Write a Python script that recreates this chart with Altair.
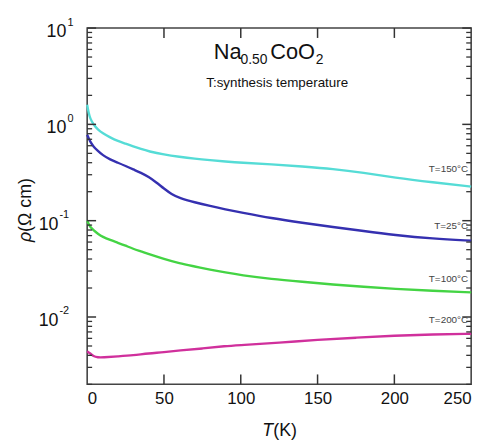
import altair as alt
import pandas as pd

# ---- data ----
series_names = ["T=150°C", "T=25°C", "T=100°C", "T=200°C"]
series_colors = ["#55dcd6", "#3530b0", "#44d444", "#d0309c"]

t_150 = [0, 1, 2, 4, 7, 10, 15, 20, 25, 30, 35, 40, 50, 60, 70, 80, 90, 100, 120, 140, 160, 180, 200, 225, 250]
r_150 = [1.6, 1.3, 1.15, 1.0, 0.88, 0.81, 0.73, 0.67, 0.63, 0.59, 0.555, 0.525, 0.485, 0.46, 0.44, 0.425, 0.412, 0.40, 0.385, 0.365, 0.345, 0.315, 0.28, 0.25, 0.226]

t_25 = [0, 1, 2, 4, 7, 10, 15, 20, 25, 30, 35, 40, 45, 50, 55, 60, 70, 80, 90, 100, 120, 140, 160, 180, 200, 225, 250]
r_25 = [0.78, 0.72, 0.66, 0.59, 0.53, 0.48, 0.43, 0.40, 0.37, 0.34, 0.315, 0.285, 0.25, 0.215, 0.188, 0.172, 0.155, 0.142, 0.131, 0.122, 0.106, 0.095, 0.086, 0.078, 0.071, 0.065, 0.062]

t_100 = [0, 1, 2, 4, 7, 10, 15, 20, 25, 30, 35, 40, 50, 60, 70, 80, 90, 100, 120, 140, 160, 180, 200, 225, 250]
r_100 = [0.1, 0.092, 0.086, 0.08, 0.073, 0.068, 0.063, 0.059, 0.055, 0.051, 0.048, 0.045, 0.040, 0.036, 0.0335, 0.031, 0.029, 0.0272, 0.0248, 0.0232, 0.0217, 0.0206, 0.0196, 0.0187, 0.018]

t_200 = [0, 2, 4, 7, 10, 20, 30, 40, 50, 60, 75, 90, 100, 125, 150, 175, 200, 225, 250]
r_200 = [0.0044, 0.0042, 0.0039, 0.0038, 0.0038, 0.0039, 0.004, 0.0042, 0.0043, 0.0045, 0.0047, 0.005, 0.0051, 0.0054, 0.0058, 0.0061, 0.0064, 0.0066, 0.0067]

x_ticks = [50, 100, 150, 200]
x_labels = [0, 50, 100, 150, 200, 250]
y_major = [10, 1, 0.1, 0.01]
y_exps = ["1", "0", "-1", "-2"]
y_minor = [m * 10.0 ** k for k in range(-3, 1) for m in range(2, 10) if 0.002 <= m * 10.0 ** k <= 10]

rows = []
for name, ts, rs in zip(series_names, [t_150, t_25, t_100, t_200], [r_150, r_25, r_100, r_200]):
    for t, r in zip(ts, rs):
        rows.append({"series": name, "T": t, "rho": r})
df = pd.DataFrame(rows)

W, H = 388, 360
xs = alt.Scale(domain=[0, 250], nice=False, zero=False)
ys = alt.Scale(type="log", domain=[0.002, 10], nice=False)
FONT = "Liberation Sans"
TICK = "#333333"

lines = alt.Chart(df).mark_line(strokeWidth=2.4, interpolate="basis").encode(
    x=alt.X("T:Q", scale=xs,
            axis=alt.Axis(values=x_labels, ticks=False, domain=False, grid=False, title=None,
                          labelFontSize=17, labelFont=FONT, labelColor="#111", labelPadding=6)),
    y=alt.Y("rho:Q", scale=ys, axis=None),
    color=alt.Color("series:N", scale=alt.Scale(domain=series_names, range=series_colors), legend=None),
    detail="series:N",
)

xt = pd.DataFrame({"v": x_ticks})
x_bot = alt.Chart(xt).mark_rule(color=TICK, strokeWidth=1.5).encode(
    x=alt.X("v:Q", scale=xs), y=alt.value(H), y2=alt.value(H - 10))
x_top = alt.Chart(xt).mark_rule(color=TICK, strokeWidth=1.5).encode(
    x=alt.X("v:Q", scale=xs), y=alt.value(0), y2=alt.value(10))

ym = pd.DataFrame({"v": y_major, "e": y_exps, "neg": [0, 0, 1, 1]})
yn = pd.DataFrame({"v": y_minor})
y_maj_l = alt.Chart(ym).mark_rule(color=TICK, strokeWidth=1.5).encode(
    y=alt.Y("v:Q", scale=ys), x=alt.value(0), x2=alt.value(9))
y_maj_r = alt.Chart(ym).mark_rule(color=TICK, strokeWidth=1.5).encode(
    y=alt.Y("v:Q", scale=ys), x=alt.value(W), x2=alt.value(W - 9))
y_min_l = alt.Chart(yn).mark_rule(color=TICK, strokeWidth=1.3).encode(
    y=alt.Y("v:Q", scale=ys), x=alt.value(0), x2=alt.value(5))
y_min_r = alt.Chart(yn).mark_rule(color=TICK, strokeWidth=1.3).encode(
    y=alt.Y("v:Q", scale=ys), x=alt.value(W), x2=alt.value(W - 5))

base_pos = alt.Chart(ym).transform_filter("datum.neg == 0").mark_text(
    align="right", baseline="middle", dy=4, fontSize=18, font=FONT, color="#111").encode(
    y=alt.Y("v:Q", scale=ys), x=alt.value(-21), text=alt.value("10"))
sup_pos = alt.Chart(ym).transform_filter("datum.neg == 0").mark_text(
    align="left", baseline="middle", dy=-5, fontSize=11, font=FONT, color="#111").encode(
    y=alt.Y("v:Q", scale=ys), x=alt.value(-20), text="e:N")
base_neg = alt.Chart(ym).transform_filter("datum.neg == 1").mark_text(
    align="right", baseline="middle", dy=4, fontSize=18, font=FONT, color="#111").encode(
    y=alt.Y("v:Q", scale=ys), x=alt.value(-29), text=alt.value("10"))
sup_neg = alt.Chart(ym).transform_filter("datum.neg == 1").mark_text(
    align="left", baseline="middle", dy=-6, fontSize=11, font=FONT, color="#111").encode(
    y=alt.Y("v:Q", scale=ys), x=alt.value(-28), text="e:N")

one = pd.DataFrame({"a": [0]})

def txt(s, x, y, size, align="left", style="normal", angle=0, color="#111", baseline="middle"):
    kw = dict(align=align, baseline=baseline, fontSize=size, font=FONT, color=color, fontStyle=style)
    if angle:
        kw["angle"] = angle
    return alt.Chart(one).mark_text(**kw).encode(x=alt.value(x), y=alt.value(y), text=alt.value(s))

texts = [
    # x title
    txt("T", 188, 407, 18, align="right", style="italic"),
    txt("(K)", 188, 407, 18, align="left"),
    # y title (rotated)
    txt("ρ", -62, 206, 18, align="right", style="italic", angle=270),
    txt("(Ω cm)", -62, 206, 18, align="left", angle=270),
    # compound
    txt("Na", 128, 24, 22),
    txt("0.50", 155, 32, 14),
    txt("CoO", 185, 24, 22),
    txt("2", 231, 32, 14),
    txt("T:synthesis temperature", 192, 56, 13.5, align="center"),
    # curve labels
    txt("T=150°C", 385, 142, 10, align="right", color="#444"),
    txt("T=25°C", 385, 200, 10, align="right", color="#444"),
    txt("T=100°C", 385, 254, 10, align="right", color="#444"),
    txt("T=200°C", 385, 295, 10, align="right", color="#444"),
]

chart = alt.layer(
    lines, x_bot, x_top, y_maj_l, y_maj_r, y_min_l, y_min_r,
    base_pos, sup_pos, base_neg, sup_neg, *texts
).properties(
    width=W, height=H,
    autosize=alt.AutoSizeParams(type="none"),
    padding={"left": 80, "top": 18, "right": 16, "bottom": 54},
    background="white",
).configure_view(stroke="#444444", strokeWidth=1.6)

chart.save("out.html", embed_options={"renderer": "svg", "actions": False})
